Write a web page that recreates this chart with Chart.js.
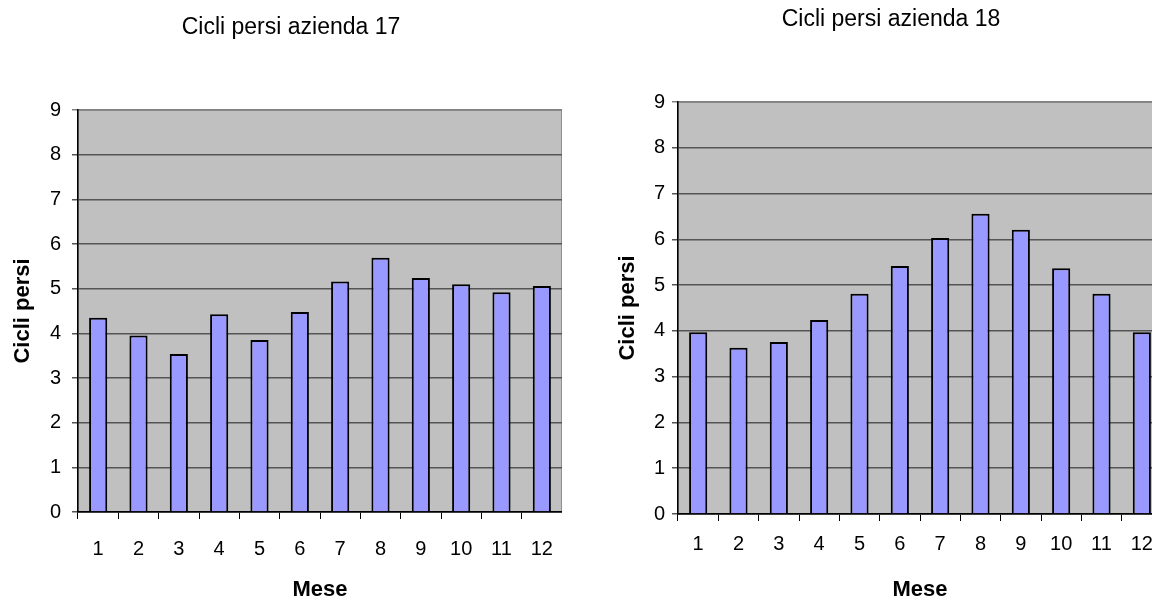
<!DOCTYPE html>
<html>
<head>
<meta charset="utf-8">
<script src="https://cdn.jsdelivr.net/npm/chart.js@4.4.1/dist/chart.umd.min.js"></script>
<style>
    body { margin: 0; background: #fff; overflow: hidden; width: 1152px; height: 604px; position: relative; }
    .grafico { position: absolute; top: 0; }
</style>
</head>
<body>
<div class="grafico" style="left:0px"><canvas id="azienda17" width="562" height="604"></canvas></div>
<div class="grafico" style="left:600px"><canvas id="azienda18" width="562" height="604"></canvas></div>
<script>
// dati
const mesi = ['1', '2', '3', '4', '5', '6', '7', '8', '9', '10', '11', '12']
const cicliAzienda17 = [4.35, 3.95, 3.54, 4.43, 3.85, 4.48, 5.16, 5.69, 5.24, 5.10, 4.92, 5.06]
const cicliAzienda18 = [3.97, 3.63, 3.76, 4.24, 4.81, 5.42, 6.03, 6.56, 6.21, 5.37, 4.81, 3.97]
const asseYMin = 0
const asseYMax = 9
const asseYPasso = 1

//? controlla se il font narrow esiste
function fontDisponibile(nome) {
    const ctx = document.createElement('canvas').getContext('2d')
    ctx.font = '40px monospace'
    const base = ctx.measureText('Cicli persi azienda 1234567890').width
    ctx.font = `40px "${nome}", monospace`
    return ctx.measureText('Cicli persi azienda 1234567890').width !== base
}

const narrow = fontDisponibile('Liberation Sans Narrow')
const famiglia = narrow ? '"Liberation Sans Narrow", "Liberation Sans", Arial, sans-serif' : '"Liberation Sans", Arial, sans-serif'
const fTitolo = narrow ? 27 : 23
const fTick = narrow ? 23 : 20
const fAsse = narrow ? 25 : 22

// sfondo grigio dell'area del grafico
const sfondoArea = {
    id: 'sfondoArea',
    beforeDraw(chart) {
        const { ctx, chartArea: a } = chart
        ctx.save()
        ctx.fillStyle = '#c0c0c0'
        ctx.fillRect(a.left, a.top, a.right - a.left, a.bottom - a.top)
        ctx.strokeStyle = '#808080'
        ctx.lineWidth = 1.5
        ctx.strokeRect(a.left, a.top, a.right - a.left, a.bottom - a.top)
        ctx.restore()
    }
}

function creaGrafico(id, titolo, valori, cfg) {
    const ctx = document.getElementById(id).getContext('2d')
    return new Chart(ctx, {
        type: 'bar',
        data: {
            labels: mesi,
            datasets: [{
                data: valori,
                backgroundColor: '#9999ff',
                borderColor: '#000000',
                borderWidth: 2,
                borderSkipped: 'bottom',
                barPercentage: 0.45,
                categoryPercentage: 1
            }]
        },
        options: {
            responsive: false,
            animation: false,
            devicePixelRatio: 1,
            layout: { padding: { left: 20, right: 0, top: 0, bottom: 0 } },
            plugins: {
                legend: { display: false },
                tooltip: { enabled: false },
                title: {
                    display: true,
                    text: titolo,
                    color: '#000',
                    font: { family: famiglia, size: fTitolo, weight: 'normal', lineHeight: '34px' },
                    padding: { top: cfg.titoloTop, bottom: cfg.plotTop - cfg.titoloTop - 34 }
                }
            },
            scales: {
                x: {
                    afterFit: s => {
                        s.height = 604 - cfg.plotBottom
                        s.paddingLeft = 0
                        s.paddingRight = 0
                    },
                    grid: { display: true, drawOnChartArea: false, offset: true, tickLength: 7, color: '#000', lineWidth: 1 },
                    border: { display: true, color: '#000', width: 1.5 },
                    ticks: { color: '#000', padding: cfg.xPad, font: { family: famiglia, size: fTick, lineHeight: '28px' } },
                    title: {
                        display: true,
                        text: 'Mese',
                        color: '#000',
                        font: { family: famiglia, size: fAsse, weight: 'bold', lineHeight: '25px' },
                        padding: { top: 10, bottom: 1.5 }
                    }
                },
                y: {
                    min: asseYMin,
                    max: asseYMax,
                    afterFit: s => { s.width = 58 },
                    grid: {
                        tickLength: 6,
                        lineWidth: 1.5,
                        color: c => c.tick && c.tick.value === asseYMax ? '#808080' : '#555555'
                    },
                    border: { display: true, color: '#000', width: 1.5 },
                    ticks: { stepSize: asseYPasso, color: '#000', padding: cfg.yPad, font: { family: famiglia, size: fTick, lineHeight: '28px' } },
                    title: {
                        display: true,
                        text: 'Cicli persi',
                        color: '#000',
                        font: { family: famiglia, size: fAsse, weight: 'bold', lineHeight: '6px' },
                        padding: { top: cfg.yTitolo, bottom: 0 }
                    }
                }
            }
        },
        plugins: [sfondoArea]
    })
}

creaGrafico('azienda17', 'Cicli persi azienda 17', cicliAzienda17, { titoloTop: 11, plotTop: 110, plotBottom: 512, xPad: 16, yPad: 11, yTitolo: 0 })
creaGrafico('azienda18', 'Cicli persi azienda 18', cicliAzienda18, { titoloTop: 3, plotTop: 102, plotBottom: 514, xPad: 9, yPad: 7, yTitolo: 5 })
</script>
</body>
</html>
